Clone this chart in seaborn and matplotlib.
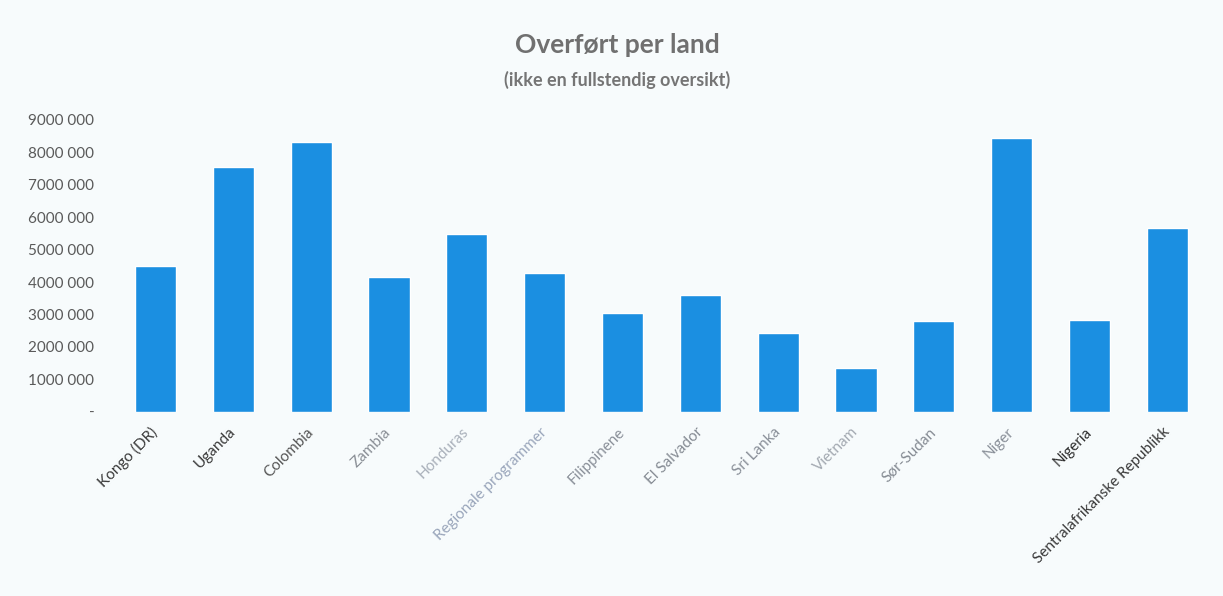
import matplotlib
matplotlib.use("Agg")
import matplotlib.pyplot as plt
import seaborn as sns
import pandas as pd

# Data lest av fra diagrammet
land = ["Kongo (DR)", "Uganda", "Colombia", "Zambia", "Honduras",
        "Regionale programmer", "Filippinene", "El Salvador", "Sri Lanka",
        "Vietnam", "Sør-Sudan", "Niger", "Nigeria", "Sentralafrikanske Republikk"]
overfort = [4500000, 7560000, 8330000, 4140000, 5490000,
            4290000, 3060000, 3610000, 2440000,
            1360000, 2810000, 8430000, 2840000, 5680000]
y_ticks = [0, 1000000, 2000000, 3000000, 4000000, 5000000,
           6000000, 7000000, 8000000, 9000000]
y_labels = ["-", "1000 000", "2000 000", "3000 000", "4000 000", "5000 000",
            "6000 000", "7000 000", "8000 000", "9000 000"]

# skannet bilde: etikettene har ulik gråtone
label_farger = ["#3a3a3a", "#3a3a3a", "#555555", "#8a8f96", "#a9b0ba",
                "#9aa6bb", "#8a9099", "#858b93", "#8a9099",
                "#a3a9b1", "#858b93", "#8a9099", "#2e2e2e", "#3a3a3a"]

df = pd.DataFrame({"Land": land, "Overført": overfort})

bg = "#f7fbfc"
sns.set_style("white")
plt.rcParams["font.family"] = ["Lato", "DejaVu Sans"]

fig = plt.figure(figsize=(12.23, 5.96), dpi=100, facecolor=bg)
ax = fig.add_axes([0.0953, 0.309, 0.891, 0.490])
ax.set_facecolor(bg)

sns.barplot(data=df, x="Land", y="Overført", color="#1b8fe1",
            saturation=1, width=0.53, ax=ax)

ax.set_ylim(0, 9000000)
ax.set_yticks(y_ticks)
ax.set_yticklabels(y_labels)
ax.set_xlabel("")
ax.set_ylabel("")
sns.despine(ax=ax, left=True, bottom=True)

ax.tick_params(axis="y", length=0, pad=16, labelsize=11, labelcolor="#5a5a5a")
ax.tick_params(axis="x", length=0, pad=13, labelsize=11)
for lbl, farge in zip(ax.get_xticklabels(), label_farger):
    lbl.set_rotation(45)
    lbl.set_ha("right")
    lbl.set_va("center")
    lbl.set_rotation_mode("anchor")
    lbl.set_color(farge)

fig.text(0.505, 0.925, "Overført per land", ha="center", va="center",
         fontsize=19, fontweight="bold", color="#707070")
fig.text(0.505, 0.866, "(ikke en fullstendig oversikt)", ha="center", va="center",
         fontsize=13, fontweight="bold", color="#757575")

plt.savefig("out.png", dpi=100, facecolor=bg)
